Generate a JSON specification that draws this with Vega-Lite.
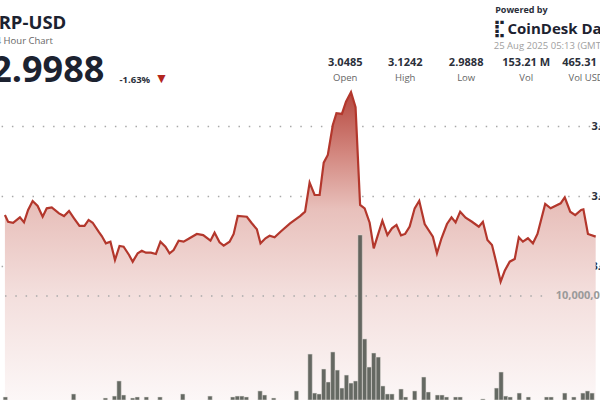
{
  "$schema": "https://vega.github.io/schema/vega-lite/v6.json",
  "width": 600,
  "height": 400,
  "padding": 0,
  "autosize": {"type": "none"},
  "background": "white",
  "config": {"view": {"stroke": null}, "font": "Open Sans"},
  "datasets": {
    "price": [
      {"t": "2025-08-24T06:29", "price": 3.0364},
      {"t": "2025-08-24T06:36", "price": 3.0316},
      {"t": "2025-08-24T06:47", "price": 3.0309},
      {"t": "2025-08-24T07:02", "price": 3.0348},
      {"t": "2025-08-24T07:11", "price": 3.0312},
      {"t": "2025-08-24T07:20", "price": 3.04},
      {"t": "2025-08-24T07:30", "price": 3.0464},
      {"t": "2025-08-24T07:41", "price": 3.0429},
      {"t": "2025-08-24T07:52", "price": 3.0352},
      {"t": "2025-08-24T08:01", "price": 3.0412},
      {"t": "2025-08-24T08:12", "price": 3.0419},
      {"t": "2025-08-24T08:28", "price": 3.0376},
      {"t": "2025-08-24T08:39", "price": 3.0357},
      {"t": "2025-08-24T08:50", "price": 3.0393},
      {"t": "2025-08-24T09:01", "price": 3.0341},
      {"t": "2025-08-24T09:13", "price": 3.0286},
      {"t": "2025-08-24T09:24", "price": 3.0286},
      {"t": "2025-08-24T09:33", "price": 3.0329},
      {"t": "2025-08-24T09:42", "price": 3.0309},
      {"t": "2025-08-24T09:55", "price": 3.0245},
      {"t": "2025-08-24T10:02", "price": 3.0214},
      {"t": "2025-08-24T10:11", "price": 3.0162},
      {"t": "2025-08-24T10:21", "price": 3.0174},
      {"t": "2025-08-24T10:31", "price": 3.0043},
      {"t": "2025-08-24T10:41", "price": 3.0143},
      {"t": "2025-08-24T10:50", "price": 3.0138},
      {"t": "2025-08-24T11:02", "price": 3.0079},
      {"t": "2025-08-24T11:10", "price": 3.0031},
      {"t": "2025-08-24T11:21", "price": 3.0091},
      {"t": "2025-08-24T11:30", "price": 3.0109},
      {"t": "2025-08-24T11:39", "price": 3.0095},
      {"t": "2025-08-24T11:50", "price": 3.0095},
      {"t": "2025-08-24T12:01", "price": 3.0086},
      {"t": "2025-08-24T12:11", "price": 3.0174},
      {"t": "2025-08-24T12:22", "price": 3.0138},
      {"t": "2025-08-24T12:31", "price": 3.0091},
      {"t": "2025-08-24T12:40", "price": 3.0114},
      {"t": "2025-08-24T12:51", "price": 3.0181},
      {"t": "2025-08-24T13:02", "price": 3.0174},
      {"t": "2025-08-24T13:13", "price": 3.0195},
      {"t": "2025-08-24T13:31", "price": 3.0229},
      {"t": "2025-08-24T13:45", "price": 3.0221},
      {"t": "2025-08-24T14:01", "price": 3.0181},
      {"t": "2025-08-24T14:10", "price": 3.0238},
      {"t": "2025-08-24T14:21", "price": 3.0169},
      {"t": "2025-08-24T14:30", "price": 3.0145},
      {"t": "2025-08-24T14:43", "price": 3.0174},
      {"t": "2025-08-24T14:52", "price": 3.0229},
      {"t": "2025-08-24T15:01", "price": 3.0357},
      {"t": "2025-08-24T15:21", "price": 3.0352},
      {"t": "2025-08-24T15:31", "price": 3.0309},
      {"t": "2025-08-24T15:43", "price": 3.0262},
      {"t": "2025-08-24T15:51", "price": 3.0162},
      {"t": "2025-08-24T16:02", "price": 3.0198},
      {"t": "2025-08-24T16:11", "price": 3.0216},
      {"t": "2025-08-24T16:22", "price": 3.0205},
      {"t": "2025-08-24T16:35", "price": 3.0245},
      {"t": "2025-08-24T16:56", "price": 3.0305},
      {"t": "2025-08-24T17:18", "price": 3.0357},
      {"t": "2025-08-24T17:29", "price": 3.0388},
      {"t": "2025-08-24T17:39", "price": 3.0595},
      {"t": "2025-08-24T17:50", "price": 3.0507},
      {"t": "2025-08-24T18:01", "price": 3.0507},
      {"t": "2025-08-24T18:10", "price": 3.0738},
      {"t": "2025-08-24T18:19", "price": 3.0793},
      {"t": "2025-08-24T18:30", "price": 3.1007},
      {"t": "2025-08-24T18:38", "price": 3.1091},
      {"t": "2025-08-24T18:50", "price": 3.1086},
      {"t": "2025-08-24T18:59", "price": 3.1174},
      {"t": "2025-08-24T19:10", "price": 3.1242},
      {"t": "2025-08-24T19:20", "price": 3.1134},
      {"t": "2025-08-24T19:30", "price": 3.0436},
      {"t": "2025-08-24T19:40", "price": 3.0412},
      {"t": "2025-08-24T19:51", "price": 3.0309},
      {"t": "2025-08-24T20:00", "price": 3.0126},
      {"t": "2025-08-24T20:09", "price": 3.0221},
      {"t": "2025-08-24T20:19", "price": 3.0324},
      {"t": "2025-08-24T20:30", "price": 3.0221},
      {"t": "2025-08-24T20:40", "price": 3.0269},
      {"t": "2025-08-24T20:50", "price": 3.0293},
      {"t": "2025-08-24T21:00", "price": 3.0219},
      {"t": "2025-08-24T21:09", "price": 3.0229},
      {"t": "2025-08-24T21:19", "price": 3.0281},
      {"t": "2025-08-24T21:30", "price": 3.0412},
      {"t": "2025-08-24T21:40", "price": 3.0466},
      {"t": "2025-08-24T21:52", "price": 3.03},
      {"t": "2025-08-24T22:10", "price": 3.0209},
      {"t": "2025-08-24T22:19", "price": 3.0091},
      {"t": "2025-08-24T22:29", "price": 3.0198},
      {"t": "2025-08-24T22:41", "price": 3.03},
      {"t": "2025-08-24T22:51", "price": 3.0348},
      {"t": "2025-08-24T23:00", "price": 3.0312},
      {"t": "2025-08-24T23:10", "price": 3.0388},
      {"t": "2025-08-24T23:22", "price": 3.0345},
      {"t": "2025-08-24T23:36", "price": 3.0316},
      {"t": "2025-08-24T23:51", "price": 3.0281},
      {"t": "2025-08-25T00:00", "price": 3.0316},
      {"t": "2025-08-25T00:10", "price": 3.0186},
      {"t": "2025-08-25T00:20", "price": 3.015},
      {"t": "2025-08-25T00:29", "price": 3.0031},
      {"t": "2025-08-25T00:39", "price": 2.9888},
      {"t": "2025-08-25T00:48", "price": 2.9966},
      {"t": "2025-08-25T00:59", "price": 3.0031},
      {"t": "2025-08-25T01:10", "price": 3.005},
      {"t": "2025-08-25T01:19", "price": 3.0205},
      {"t": "2025-08-25T01:28", "price": 3.0174},
      {"t": "2025-08-25T01:39", "price": 3.0198},
      {"t": "2025-08-25T01:50", "price": 3.0162},
      {"t": "2025-08-25T02:00", "price": 3.0229},
      {"t": "2025-08-25T02:17", "price": 3.0443},
      {"t": "2025-08-25T02:29", "price": 3.0412},
      {"t": "2025-08-25T02:51", "price": 3.0448},
      {"t": "2025-08-25T03:00", "price": 3.0491},
      {"t": "2025-08-25T03:12", "price": 3.0388},
      {"t": "2025-08-25T03:23", "price": 3.0364},
      {"t": "2025-08-25T03:36", "price": 3.04},
      {"t": "2025-08-25T03:41", "price": 3.0405},
      {"t": "2025-08-25T03:51", "price": 3.0229},
      {"t": "2025-08-25T04:08", "price": 3.021}
    ],
    "volume": [
      {"t": "2025-08-24T06:30", "vol": 290000},
      {"t": "2025-08-24T09:00", "vol": 580000},
      {"t": "2025-08-24T10:10", "vol": 190000},
      {"t": "2025-08-24T10:30", "vol": 380000},
      {"t": "2025-08-24T10:40", "vol": 1830000},
      {"t": "2025-08-24T10:50", "vol": 480000},
      {"t": "2025-08-24T11:10", "vol": 190000},
      {"t": "2025-08-24T11:20", "vol": 290000},
      {"t": "2025-08-24T11:40", "vol": 290000},
      {"t": "2025-08-24T12:10", "vol": 290000},
      {"t": "2025-08-24T13:00", "vol": 580000},
      {"t": "2025-08-24T14:00", "vol": 380000},
      {"t": "2025-08-24T14:50", "vol": 290000},
      {"t": "2025-08-24T15:00", "vol": 380000},
      {"t": "2025-08-24T15:10", "vol": 380000},
      {"t": "2025-08-24T15:20", "vol": 290000},
      {"t": "2025-08-24T15:50", "vol": 870000},
      {"t": "2025-08-24T16:00", "vol": 480000},
      {"t": "2025-08-24T16:20", "vol": 190000},
      {"t": "2025-08-24T17:10", "vol": 870000},
      {"t": "2025-08-24T17:40", "vol": 4420000},
      {"t": "2025-08-24T17:50", "vol": 670000},
      {"t": "2025-08-24T18:00", "vol": 580000},
      {"t": "2025-08-24T18:10", "vol": 2980000},
      {"t": "2025-08-24T18:20", "vol": 1730000},
      {"t": "2025-08-24T18:30", "vol": 4620000},
      {"t": "2025-08-24T18:40", "vol": 2880000},
      {"t": "2025-08-24T18:50", "vol": 1150000},
      {"t": "2025-08-24T19:00", "vol": 2400000},
      {"t": "2025-08-24T19:10", "vol": 1630000},
      {"t": "2025-08-24T19:20", "vol": 1830000},
      {"t": "2025-08-24T19:30", "vol": 15870000},
      {"t": "2025-08-24T19:40", "vol": 5870000},
      {"t": "2025-08-24T19:50", "vol": 3170000},
      {"t": "2025-08-24T20:00", "vol": 4520000},
      {"t": "2025-08-24T20:10", "vol": 4130000},
      {"t": "2025-08-24T20:20", "vol": 1350000},
      {"t": "2025-08-24T20:30", "vol": 580000},
      {"t": "2025-08-24T20:40", "vol": 580000},
      {"t": "2025-08-24T21:00", "vol": 1060000},
      {"t": "2025-08-24T21:10", "vol": 290000},
      {"t": "2025-08-24T21:30", "vol": 870000},
      {"t": "2025-08-24T21:50", "vol": 2210000},
      {"t": "2025-08-24T22:00", "vol": 770000},
      {"t": "2025-08-24T22:20", "vol": 480000},
      {"t": "2025-08-24T22:30", "vol": 480000},
      {"t": "2025-08-24T22:40", "vol": 290000},
      {"t": "2025-08-24T23:00", "vol": 290000},
      {"t": "2025-08-24T23:10", "vol": 290000},
      {"t": "2025-08-25T00:00", "vol": 100000},
      {"t": "2025-08-25T00:30", "vol": 1150000},
      {"t": "2025-08-25T00:40", "vol": 2690000},
      {"t": "2025-08-25T00:50", "vol": 380000},
      {"t": "2025-08-25T01:00", "vol": 290000},
      {"t": "2025-08-25T01:20", "vol": 670000},
      {"t": "2025-08-25T01:40", "vol": 290000},
      {"t": "2025-08-25T02:20", "vol": 290000},
      {"t": "2025-08-25T02:30", "vol": 290000},
      {"t": "2025-08-25T03:00", "vol": 670000},
      {"t": "2025-08-25T03:20", "vol": 290000},
      {"t": "2025-08-25T03:40", "vol": 670000},
      {"t": "2025-08-25T03:50", "vol": 870000},
      {"t": "2025-08-25T04:00", "vol": 670000}
    ]
  },
  "layer": [
    {
      "layer": [
        {
          "data": {"name": "price"},
          "mark": {
            "type": "area",
            "opacity": 1,
            "color": {
              "gradient": "linear", "x1": 0, "y1": 0, "x2": 0, "y2": 1,
              "stops": [
                {"offset": 0, "color": "#b6483f"},
                {"offset": 0.2, "color": "#d3877f"},
                {"offset": 0.38, "color": "#e8c0bb"},
                {"offset": 0.65, "color": "#f3dedc"},
                {"offset": 1, "color": "#fcf7f7"}
              ]
            }
          },
          "encoding": {
            "x": {
              "field": "t", "type": "temporal",
              "scale": {"domain": [
                {"year": 2025, "month": 8, "date": 24, "hours": 6, "minutes": 29, "seconds": 12},
                {"year": 2025, "month": 8, "date": 25, "hours": 4, "minutes": 6, "seconds": 30}
              ], "nice": false},
              "axis": {
                "values": [
                  {"year": 2025, "month": 8, "date": 24, "hours": 6},
                  {"year": 2025, "month": 8, "date": 24, "hours": 12},
                  {"year": 2025, "month": 8, "date": 24, "hours": 18},
                  {"year": 2025, "month": 8, "date": 25, "hours": 0}
                ],
                "format": "%H:%M", "offset": -100, "domain": false, "grid": false,
                "tickSize": 2, "tickColor": "#444", "labelPadding": 8,
                "labelFontSize": 10.5, "labelFontWeight": "bold", "labelColor": "#2b2f3a",
                "labelFlush": false, "labelOverlap": false, "title": null
              }
            },
            "y": {
              "field": "price", "type": "quantitative",
              "scale": {"domain": [2.90429, 3.19], "nice": false, "zero": false},
              "axis": {
                "orient": "right", "values": [3.0, 3.05, 3.1], "format": ".4f",
                "labelAlign": "left", "labelPadding": -9, "ticks": false, "domain": false,
                "grid": true, "gridColor": "#a9a9a9", "gridDash": [1.5, 8.8], "gridWidth": 1.3,
                "labelColor": "#2b2f3a", "labelFontWeight": "bold", "labelFontSize": 11, "title": null
              }
            },
            "y2": {"datum": 2.90429}
          }
        },
        {
          "data": {"values": [{}]},
          "mark": {"type": "text", "text": "XRP-USD", "align": "left", "baseline": "middle", "fontSize": 18.5, "fontWeight": "bold", "color": "#1c2230"},
          "encoding": {
            "x": {"datum": {"year": 2025, "month": 8, "date": 24, "hours": 5, "minutes": 48, "seconds": 6}, "type": "temporal"},
            "y": {"datum": 3.17357, "type": "quantitative"}
          }
        },
        {
          "data": {"values": [{}]},
          "mark": {"type": "text", "text": "24 Hour Chart", "align": "left", "baseline": "middle", "fontSize": 9.5, "color": "#666"},
          "encoding": {
            "x": {"datum": {"year": 2025, "month": 8, "date": 24, "hours": 5, "minutes": 56, "seconds": 48}, "type": "temporal"},
            "y": {"datum": 3.16036, "type": "quantitative"}
          }
        },
        {
          "data": {"values": [{}]},
          "mark": {"type": "text", "text": "2.9988", "align": "right", "baseline": "alphabetic", "fontSize": 36, "fontWeight": "bold", "color": "#1c2230"},
          "encoding": {
            "x": {"datum": {"year": 2025, "month": 8, "date": 24, "hours": 10, "minutes": 7, "seconds": 36}, "type": "temporal"},
            "y": {"datum": 3.13143, "type": "quantitative"}
          }
        },
        {
          "data": {"values": [{}]},
          "mark": {"type": "text", "text": "-1.63%", "align": "left", "baseline": "alphabetic", "fontSize": 9.5, "fontWeight": "bold", "color": "#2b2f3a"},
          "encoding": {
            "x": {"datum": {"year": 2025, "month": 8, "date": 24, "hours": 10, "minutes": 41, "seconds": 6}, "type": "temporal"},
            "y": {"datum": 3.13071, "type": "quantitative"}
          }
        },
        {
          "data": {"values": [{}]},
          "mark": {"type": "text", "text": "▼", "align": "left", "baseline": "alphabetic", "fontSize": 14, "color": "#b3261e"},
          "encoding": {
            "x": {"datum": {"year": 2025, "month": 8, "date": 24, "hours": 11, "minutes": 58}, "type": "temporal"},
            "y": {"datum": 3.13071, "type": "quantitative"}
          }
        },
        {
          "data": {"values": [{}]},
          "mark": {"type": "text", "text": "Powered by", "align": "left", "baseline": "middle", "fontSize": 9, "fontWeight": "bold", "color": "#2b2f3a"},
          "encoding": {
            "x": {"datum": {"year": 2025, "month": 8, "date": 25, "hours": 0, "minutes": 27}, "type": "temporal"},
            "y": {"datum": 3.18286, "type": "quantitative"}
          }
        },
        {
          "data": {"values": [{}]},
          "mark": {"type": "text", "text": "⣏", "align": "left", "baseline": "middle", "fontSize": 17, "fontWeight": "bold", "color": "#1c2230", "font": "DejaVu Sans"},
          "encoding": {
            "x": {"datum": {"year": 2025, "month": 8, "date": 25, "hours": 0, "minutes": 21, "seconds": 42}, "type": "temporal"},
            "y": {"datum": 3.16964, "type": "quantitative"}
          }
        },
        {
          "data": {"values": [{}]},
          "mark": {"type": "text", "text": "CoinDesk Data", "align": "left", "baseline": "middle", "fontSize": 15, "fontWeight": "bold", "color": "#1c2230"},
          "encoding": {
            "x": {"datum": {"year": 2025, "month": 8, "date": 25, "hours": 0, "minutes": 54, "seconds": 6}, "type": "temporal"},
            "y": {"datum": 3.16964, "type": "quantitative"}
          }
        },
        {
          "data": {"values": [{}]},
          "mark": {"type": "text", "text": "25 Aug 2025 05:13 (GMT)", "align": "left", "baseline": "middle", "fontSize": 9.5, "color": "#a0a0a0"},
          "encoding": {
            "x": {"datum": {"year": 2025, "month": 8, "date": 25, "hours": 0, "minutes": 23, "seconds": 48}, "type": "temporal"},
            "y": {"datum": 3.15679, "type": "quantitative"}
          }
        },
        {
          "data": {"values": [{}]},
          "mark": {"type": "text", "text": "3.0485", "align": "center", "baseline": "middle", "fontSize": 11, "fontWeight": "bold", "color": "#2b2f3a"},
          "encoding": {
            "x": {"datum": {"year": 2025, "month": 8, "date": 24, "hours": 18, "minutes": 57, "seconds": 18}, "type": "temporal"},
            "y": {"datum": 3.145, "type": "quantitative"}
          }
        },
        {
          "data": {"values": [{}]},
          "mark": {"type": "text", "text": "Open", "align": "center", "baseline": "middle", "fontSize": 9.5, "color": "#666"},
          "encoding": {
            "x": {"datum": {"year": 2025, "month": 8, "date": 24, "hours": 18, "minutes": 57, "seconds": 18}, "type": "temporal"},
            "y": {"datum": 3.13429, "type": "quantitative"}
          }
        },
        {
          "data": {"values": [{}]},
          "mark": {"type": "text", "text": "3.1242", "align": "center", "baseline": "middle", "fontSize": 11, "fontWeight": "bold", "color": "#2b2f3a"},
          "encoding": {
            "x": {"datum": {"year": 2025, "month": 8, "date": 24, "hours": 21, "minutes": 9, "seconds": 12}, "type": "temporal"},
            "y": {"datum": 3.145, "type": "quantitative"}
          }
        },
        {
          "data": {"values": [{}]},
          "mark": {"type": "text", "text": "High", "align": "center", "baseline": "middle", "fontSize": 9.5, "color": "#666"},
          "encoding": {
            "x": {"datum": {"year": 2025, "month": 8, "date": 24, "hours": 21, "minutes": 9, "seconds": 12}, "type": "temporal"},
            "y": {"datum": 3.13429, "type": "quantitative"}
          }
        },
        {
          "data": {"values": [{}]},
          "mark": {"type": "text", "text": "2.9888", "align": "center", "baseline": "middle", "fontSize": 11, "fontWeight": "bold", "color": "#2b2f3a"},
          "encoding": {
            "x": {"datum": {"year": 2025, "month": 8, "date": 24, "hours": 23, "minutes": 23, "seconds": 12}, "type": "temporal"},
            "y": {"datum": 3.145, "type": "quantitative"}
          }
        },
        {
          "data": {"values": [{}]},
          "mark": {"type": "text", "text": "Low", "align": "center", "baseline": "middle", "fontSize": 9.5, "color": "#666"},
          "encoding": {
            "x": {"datum": {"year": 2025, "month": 8, "date": 24, "hours": 23, "minutes": 23, "seconds": 12}, "type": "temporal"},
            "y": {"datum": 3.13429, "type": "quantitative"}
          }
        },
        {
          "data": {"values": [{}]},
          "mark": {"type": "text", "text": "153.21 M", "align": "center", "baseline": "middle", "fontSize": 11, "fontWeight": "bold", "color": "#2b2f3a"},
          "encoding": {
            "x": {"datum": {"year": 2025, "month": 8, "date": 25, "hours": 1, "minutes": 35, "seconds": 12}, "type": "temporal"},
            "y": {"datum": 3.145, "type": "quantitative"}
          }
        },
        {
          "data": {"values": [{}]},
          "mark": {"type": "text", "text": "Vol", "align": "center", "baseline": "middle", "fontSize": 9.5, "color": "#666"},
          "encoding": {
            "x": {"datum": {"year": 2025, "month": 8, "date": 25, "hours": 1, "minutes": 35, "seconds": 12}, "type": "temporal"},
            "y": {"datum": 3.13429, "type": "quantitative"}
          }
        },
        {
          "data": {"values": [{}]},
          "mark": {"type": "text", "text": "465.31 M", "align": "center", "baseline": "middle", "fontSize": 11, "fontWeight": "bold", "color": "#2b2f3a"},
          "encoding": {
            "x": {"datum": {"year": 2025, "month": 8, "date": 25, "hours": 3, "minutes": 47}, "type": "temporal"},
            "y": {"datum": 3.145, "type": "quantitative"}
          }
        },
        {
          "data": {"values": [{}]},
          "mark": {"type": "text", "text": "Vol USD", "align": "center", "baseline": "middle", "fontSize": 9.5, "color": "#666"},
          "encoding": {
            "x": {"datum": {"year": 2025, "month": 8, "date": 25, "hours": 3, "minutes": 47}, "type": "temporal"},
            "y": {"datum": 3.13429, "type": "quantitative"}
          }
        }
      ]
    },
    {
      "layer": [
        {
          "data": {"name": "volume"},
          "mark": {"type": "bar", "width": 4.4, "color": "#51564f", "opacity": 0.88, "stroke": "#e6e3df", "strokeWidth": 0.5},
          "encoding": {
            "x": {"field": "t", "type": "temporal"},
            "y": {
              "field": "vol", "type": "quantitative",
              "scale": {"domain": [0, 38461538], "nice": false, "zero": true},
              "axis": null
            }
          }
        },
        {
          "data": {"values": [{}]},
          "mark": {"type": "rule", "color": "#a9a9a9", "strokeDash": [1.5, 8.8], "strokeWidth": 1.3},
          "encoding": {
            "x": {"datum": {"year": 2025, "month": 8, "date": 24, "hours": 6, "minutes": 29, "seconds": 12}, "type": "temporal"},
            "x2": {"datum": {"year": 2025, "month": 8, "date": 25, "hours": 2, "minutes": 12}},
            "y": {"datum": 10000000, "type": "quantitative"}
          }
        },
        {
          "data": {"values": [{}]},
          "mark": {"type": "text", "text": "10,000,000", "align": "left", "baseline": "middle", "fontSize": 11, "fontWeight": "bold", "color": "#9a9a9a"},
          "encoding": {
            "x": {"datum": {"year": 2025, "month": 8, "date": 25, "hours": 2, "minutes": 40}, "type": "temporal"},
            "y": {"datum": 10000000, "type": "quantitative"}
          }
        }
      ]
    },
    {
      "data": {"name": "price"},
      "mark": {"type": "line", "color": "#b3372c", "strokeWidth": 2.2},
      "encoding": {
        "x": {"field": "t", "type": "temporal"},
        "y": {
          "field": "price", "type": "quantitative",
          "scale": {"domain": [2.90429, 3.19], "nice": false, "zero": false},
          "axis": null
        }
      }
    }
  ],
  "resolve": {"scale": {"y": "independent"}, "axis": {"y": "independent"}}
}
